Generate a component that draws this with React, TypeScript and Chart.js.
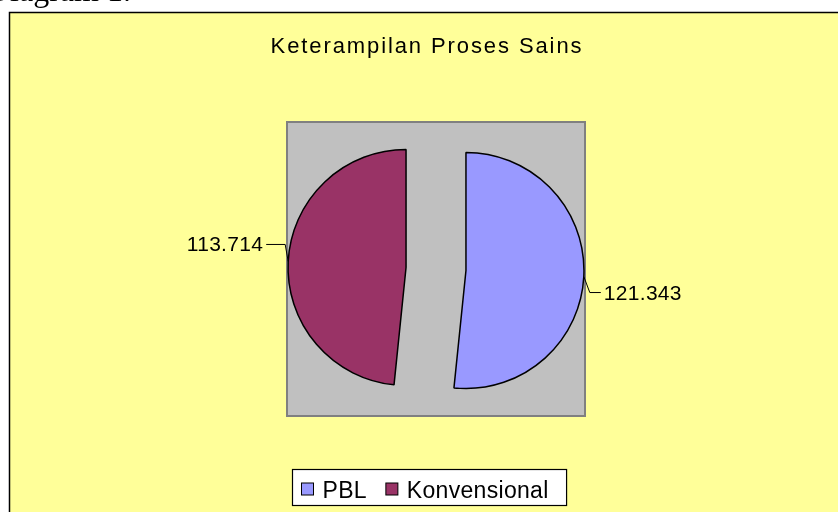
import { useEffect, useRef } from "react";
import { Chart, registerables } from "chart.js";

Chart.register(...registerables);

const CATEGORIES = ["PBL", "Konvensional"];
const VALUES = [121.343, 113.714];
const VALUE_LABELS = ["121.343", "113.714"];
const COLORS = ["#9999FF", "#993366"];
const TITLE = "Keterampilan Proses Sains";
const CAPTION = "Diagram 1.";

const W = 838;
const H = 512;
const EXPLODE = 30;
const FONT = "'Liberation Sans', Arial, sans-serif";
// leader line style per slice: elbow offset from arc point, horizontal length
const LEADER = [
  { dx: 6, dy: 16, len: 11 },
  { dx: -3, dy: -17, len: 19 },
];

const decor = {
  id: "decor",
  beforeDraw(chart: any) {
    const ctx = chart.ctx as CanvasRenderingContext2D;
    ctx.save();
    ctx.fillStyle = "#ffffff";
    ctx.fillRect(0, 0, W, H);
    ctx.fillStyle = "#000";
    ctx.font = "32px 'Liberation Serif', 'Times New Roman', serif";
    ctx.textBaseline = "alphabetic";
    ctx.textAlign = "left";
    ctx.fillText(CAPTION, -13, 1);
    ctx.fillStyle = "#FFFF99";
    ctx.fillRect(9, 12, W, H);
    ctx.strokeStyle = "#000";
    ctx.lineWidth = 1.5;
    ctx.strokeRect(9.5, 12.5, W + 20, H + 20);
    const a = chart.chartArea;
    ctx.fillStyle = "#C0C0C0";
    ctx.fillRect(a.left, a.top, a.right - a.left, a.bottom - a.top);
    ctx.strokeStyle = "#808080";
    ctx.lineWidth = 2;
    ctx.strokeRect(a.left, a.top, a.right - a.left, a.bottom - a.top);
    ctx.restore();
  },
  beforeDatasetDraw(chart: any, args: any) {
    const ctx = chart.ctx as CanvasRenderingContext2D;
    args.meta.data.forEach((arc: any) => {
      const { startAngle, endAngle } = arc.getProps(["startAngle", "endAngle"], true);
      const mid = (startAngle + endAngle) / 2;
      ctx.save();
      ctx.translate(Math.cos(mid) * EXPLODE, Math.sin(mid) * EXPLODE);
      arc.draw(ctx);
      ctx.restore();
    });
    return false;
  },
  afterDraw(chart: any) {
    const ctx = chart.ctx as CanvasRenderingContext2D;
    ctx.save();
    // title
    ctx.fillStyle = "#000";
    ctx.font = `22px ${FONT}`;
    (ctx as any).letterSpacing = "1.9px";
    ctx.textAlign = "center";
    ctx.textBaseline = "alphabetic";
    ctx.fillText(TITLE, 427, 53);

    // data labels with leader lines
    const meta = chart.getDatasetMeta(0);
    (ctx as any).letterSpacing = "0.3px";
    ctx.font = `21px ${FONT}`;
    meta.data.forEach((arc: any, i: number) => {
      const { x, y, startAngle, endAngle, outerRadius } = arc.getProps(
        ["x", "y", "startAngle", "endAngle", "outerRadius"],
        true
      );
      const mid = (startAngle + endAngle) / 2;
      const cx = x + Math.cos(mid) * EXPLODE;
      const cy = y + Math.sin(mid) * EXPLODE;
      const px = cx + Math.cos(mid) * outerRadius;
      const py = cy + Math.sin(mid) * outerRadius;
      const st = LEADER[i];
      const sign = Math.cos(mid) >= 0 ? 1 : -1;
      const ex = px + st.dx;
      const ey = py + st.dy;
      const hx = ex + sign * st.len;
      ctx.strokeStyle = "#000";
      ctx.lineWidth = 1;
      ctx.beginPath();
      ctx.moveTo(px, py);
      ctx.lineTo(ex, ey);
      ctx.lineTo(hx, ey);
      ctx.stroke();
      ctx.textAlign = sign > 0 ? "left" : "right";
      ctx.fillText(VALUE_LABELS[i], hx + sign * 3, ey + 7);
    });

    // legend
    ctx.font = `23px ${FONT}`;
    (ctx as any).letterSpacing = "0.3px";
    ctx.textAlign = "left";
    const padL = 9, sq = 12, gap = 9, itemGap = 19, padR = 18;
    const widths = CATEGORIES.map((c) => ctx.measureText(c).width);
    let total = padL + padR;
    widths.forEach((w, i) => {
      total += sq + gap + w + (i < widths.length - 1 ? itemGap : 0);
    });
    const boxX = Math.round(429 - total / 2) + 0.5;
    const boxY = 469.5;
    const boxH = 36;
    ctx.fillStyle = "#ffffff";
    ctx.fillRect(boxX, boxY, total, boxH);
    ctx.strokeStyle = "#000";
    ctx.lineWidth = 1.2;
    ctx.strokeRect(boxX, boxY, total, boxH);
    let cur = boxX + padL;
    CATEGORIES.forEach((c, i) => {
      ctx.fillStyle = COLORS[i];
      ctx.fillRect(cur, 483, sq, sq);
      ctx.strokeStyle = "#000";
      ctx.lineWidth = 1;
      ctx.strokeRect(cur, 483, sq, sq);
      cur += sq + gap;
      ctx.fillStyle = "#000";
      ctx.fillText(c, cur, 497.5);
      cur += widths[i] + itemGap;
    });
    ctx.restore();
  },
};

export default function App() {
  const ref = useRef<HTMLCanvasElement | null>(null);
  useEffect(() => {
    if (!ref.current) return;
    const chart = new Chart(ref.current, {
      type: "pie",
      data: {
        labels: CATEGORIES,
        datasets: [
          {
            data: VALUES,
            backgroundColor: COLORS,
            borderColor: "#000000",
            borderWidth: 1.5,
            radius: 118,
          } as any,
        ],
      },
      options: {
        responsive: false,
        animation: false,
        events: [],
        layout: { padding: { left: 287, top: 122, right: 253, bottom: 96 } },
        plugins: {
          legend: { display: false },
          title: { display: false },
          tooltip: { enabled: false },
        },
      },
      plugins: [decor],
    });
    return () => chart.destroy();
  }, []);
  return (
    <div style={{ position: "fixed", left: 0, top: 0, width: W, height: H }}>
      <canvas ref={ref} width={W} height={H} style={{ display: "block" }} />
    </div>
  );
}
